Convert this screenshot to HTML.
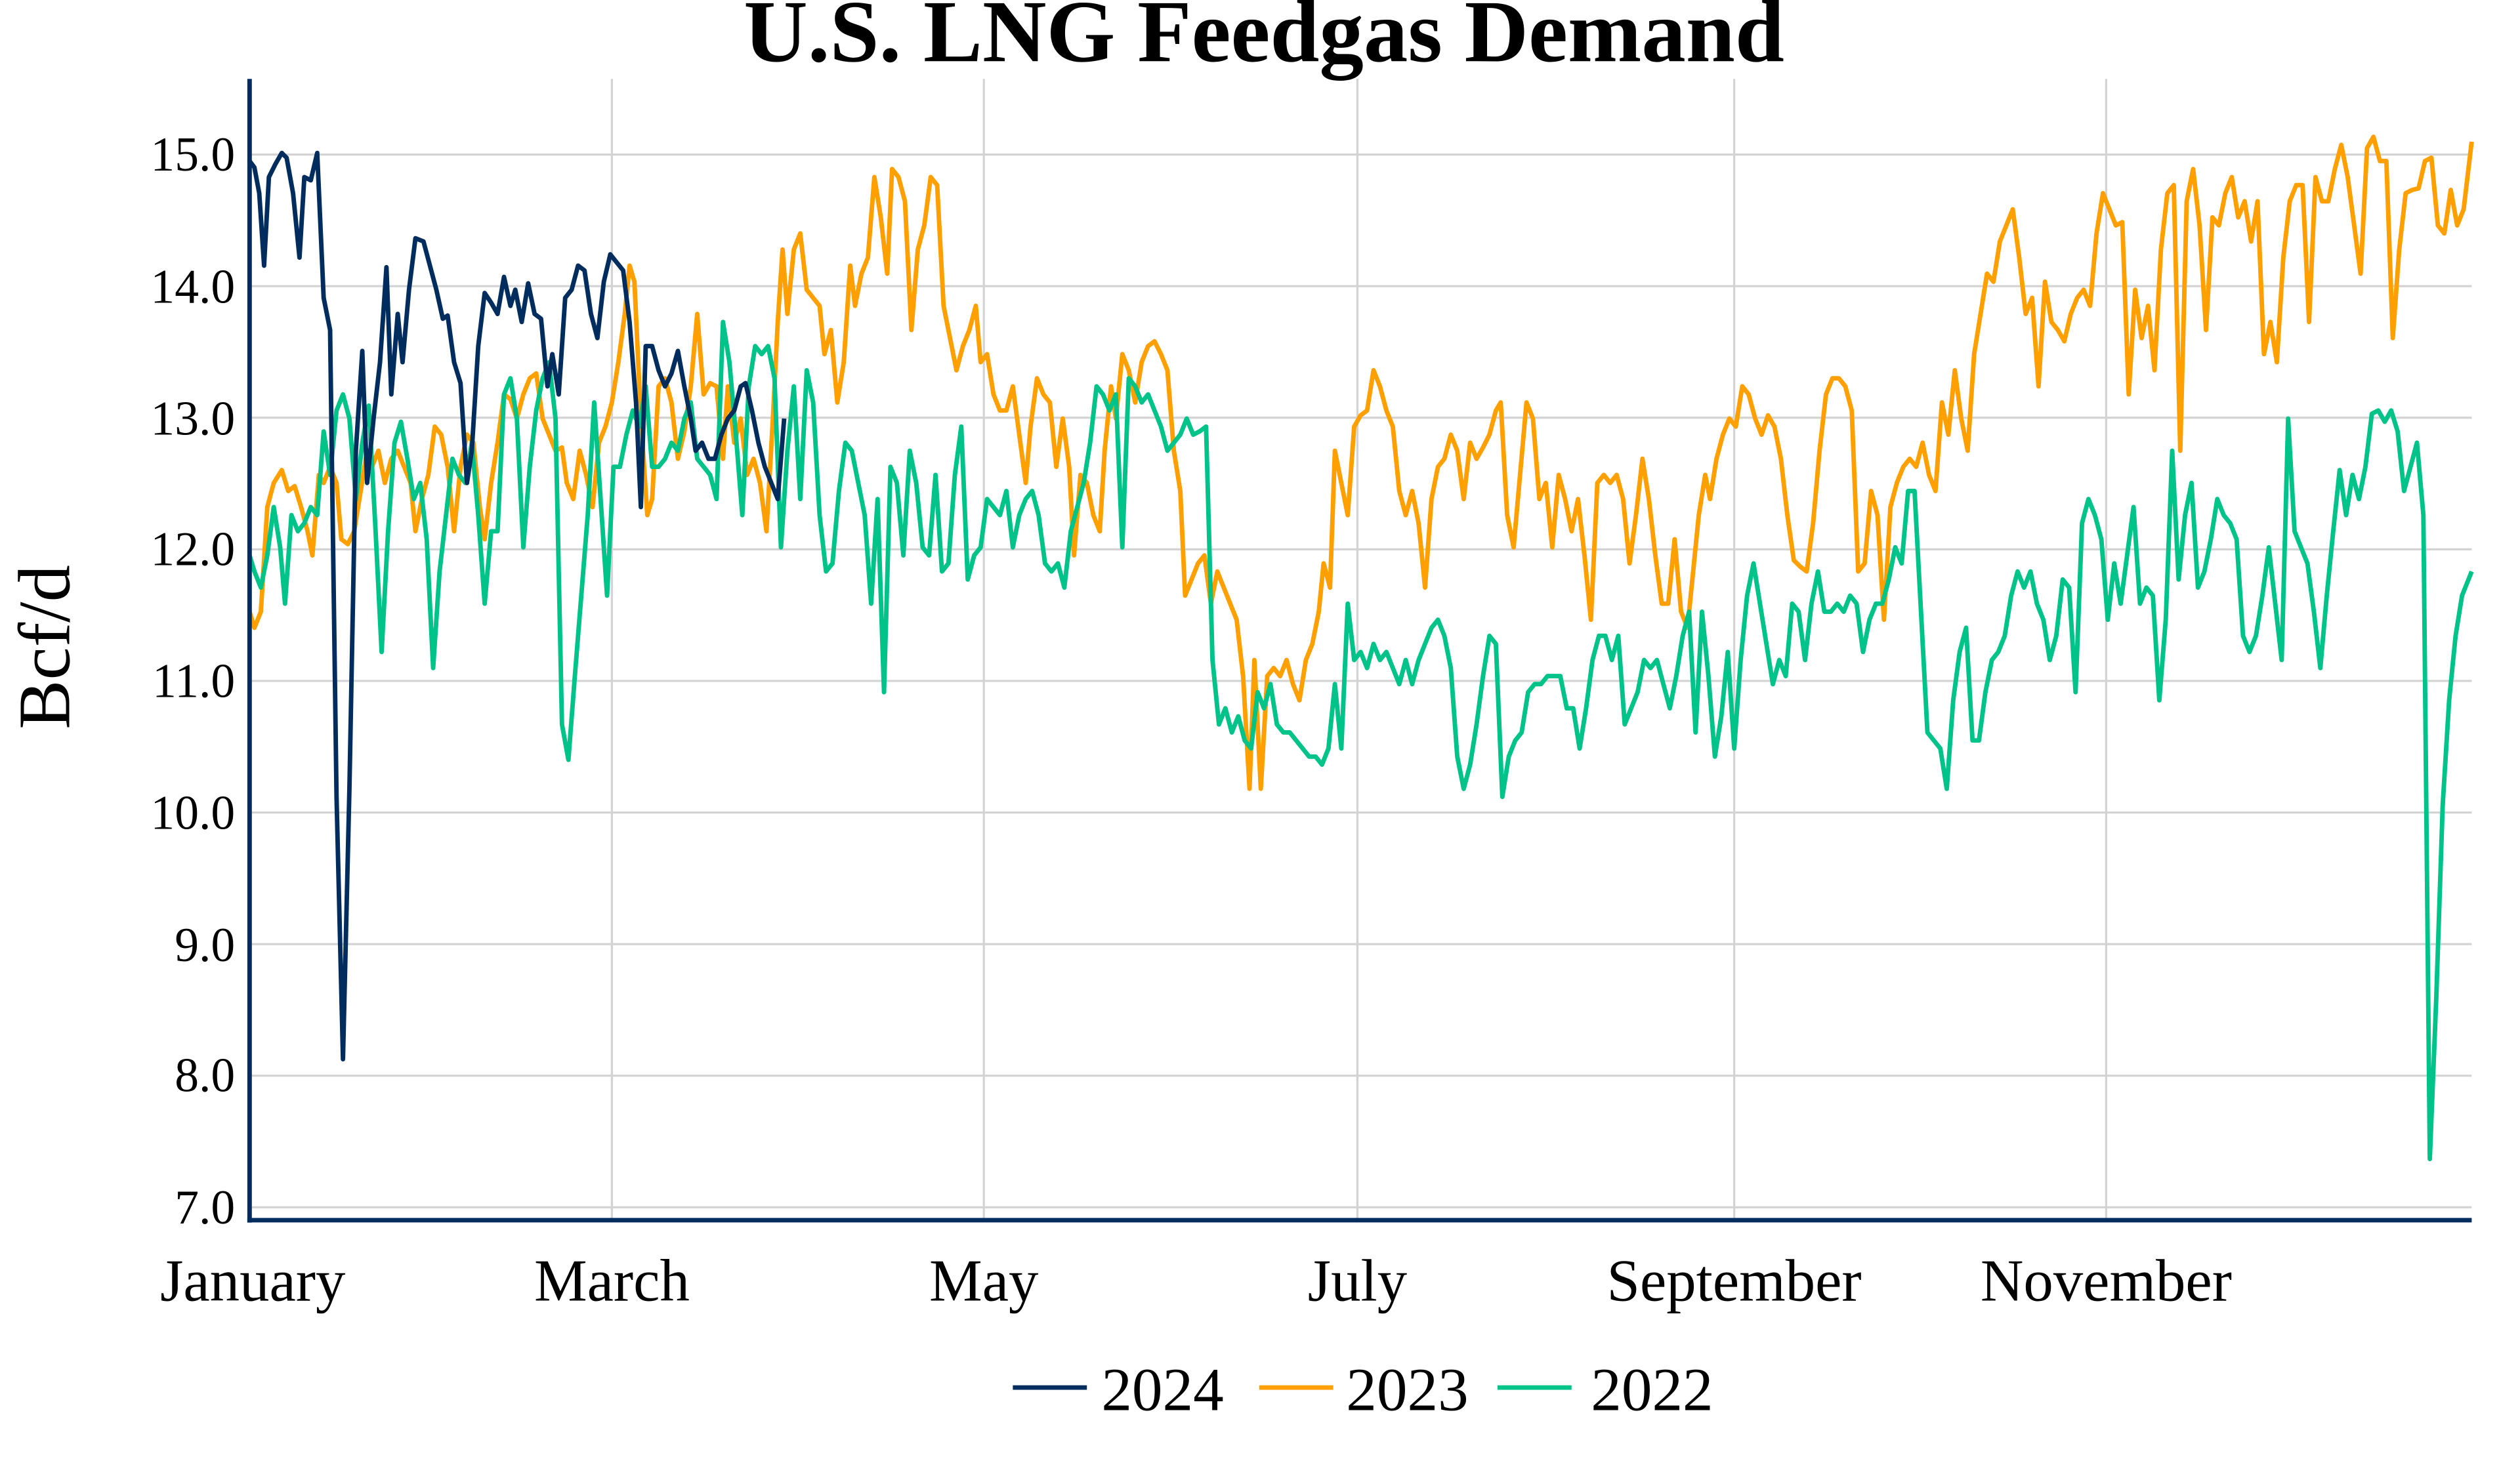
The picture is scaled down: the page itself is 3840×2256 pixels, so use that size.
<!DOCTYPE html>
<html><head><meta charset="utf-8"><style>html,body{margin:0;padding:0;background:#fff}svg{display:block}</style></head>
<body>
<svg width="3840" height="2256" viewBox="0 0 1565 919.4" xmlns="http://www.w3.org/2000/svg" font-family="Liberation Serif, serif">
<rect width="1565" height="920" fill="#fff"/>
<g stroke="#d3d3d3" stroke-width="1.3">
<line x1="155" y1="96" x2="1535" y2="96"/><line x1="155" y1="177.75" x2="1535" y2="177.75"/><line x1="155" y1="259.5" x2="1535" y2="259.5"/><line x1="155" y1="341.25" x2="1535" y2="341.25"/><line x1="155" y1="423" x2="1535" y2="423"/><line x1="155" y1="504.75" x2="1535" y2="504.75"/><line x1="155" y1="586.5" x2="1535" y2="586.5"/><line x1="155" y1="668.25" x2="1535" y2="668.25"/><line x1="155" y1="750" x2="1535" y2="750"/>
<line x1="380" y1="49" x2="380" y2="757"/><line x1="611" y1="49" x2="611" y2="757"/><line x1="843" y1="49" x2="843" y2="757"/><line x1="1077" y1="49" x2="1077" y2="757"/><line x1="1308" y1="49" x2="1308" y2="757"/>
</g>
<g font-size="30" text-anchor="end" fill="#000">
<text x="146" y="106">15.0</text><text x="146" y="188">14.0</text><text x="146" y="270">13.0</text><text x="146" y="351">12.0</text><text x="146" y="433">11.0</text><text x="146" y="515">10.0</text><text x="146" y="597">9.0</text><text x="146" y="678">8.0</text><text x="146" y="760">7.0</text>
</g>
<g font-size="37" text-anchor="middle" fill="#000">
<text x="157" y="808">January</text><text x="380" y="808">March</text><text x="611" y="808">May</text><text x="843" y="808">July</text><text x="1077" y="808">September</text><text x="1308" y="808">November</text>
</g>
<text x="785" y="38" font-size="55" font-weight="bold" text-anchor="middle">U.S. LNG Feedgas Demand</text>
<text transform="translate(43,402) rotate(-90)" font-size="46" text-anchor="middle">Bcf/d</text>
<g fill="none" stroke-width="2.8" stroke-linejoin="round">
<polyline stroke="#FFA000" points="155,380 158,390 162,380 166,315 170,300 175,292 179,305 183,302 187,315 191,330 194,345 198,295 201,300 205,290 209,300 212,335 216,338 220,330 224,305 228,280 231,290 235,280 239,300 243,285 247,280 251,290 255,300 258,330 262,310 266,295 270,265 274,270 278,290 282,330 286,290 290,270 294,275 298,315 301,335 305,300 309,275 313,245 317,248 321,260 325,245 329,235 333,232 337,260 341,270 345,280 349,278 352,300 356,310 360,280 364,295 368,315 372,275 376,265 380,250 384,225 388,195 391,165 394,175 398,260 402,320 405,310 409,240 413,235 417,250 421,285 425,268 429,240 433,195 437,245 441,238 445,240 449,285 452,240 456,275 460,260 464,295 468,285 472,300 476,330 480,260 483,200 486,155 489,195 493,155 497,145 501,180 505,185 509,190 512,220 516,205 520,250 524,225 528,165 531,190 535,170 539,160 543,110 547,135 551,170 554,105 558,110 562,125 566,205 570,155 574,140 578,110 582,115 586,190 590,210 594,230 598,215 602,205 606,190 609,225 613,220 617,245 621,255 625,255 629,240 633,270 637,300 640,265 644,235 648,245 652,250 656,290 660,260 664,290 667,345 671,295 675,300 679,320 683,330 686,280 690,240 693,260 697,220 701,230 705,250 709,225 713,215 717,212 721,220 725,230 729,280 733,305 736,370 740,360 744,350 748,345 752,375 756,355 760,365 764,375 768,385 772,420 776,490 779,410 783,490 787,420 791,415 795,420 799,410 803,425 807,435 811,410 815,400 819,380 822,350 826,365 829,280 833,300 837,320 841,265 845,258 849,255 853,230 857,240 861,255 865,265 869,305 873,320 877,305 881,325 885,365 889,310 893,290 897,285 901,270 905,280 909,310 913,275 917,285 921,278 925,270 929,255 932,250 936,320 940,340 944,295 948,250 952,260 956,310 960,300 964,340 968,295 972,310 976,330 980,310 984,345 988,385 992,300 996,295 1000,300 1004,295 1008,310 1012,350 1016,320 1020,285 1024,310 1028,345 1032,375 1036,375 1040,335 1044,380 1048,390 1052,350 1055,320 1059,295 1062,310 1066,285 1070,270 1074,260 1078,265 1082,240 1086,245 1090,260 1094,270 1098,258 1102,265 1106,285 1110,320 1114,348 1118,352 1122,355 1126,325 1130,280 1134,245 1138,235 1142,235 1146,240 1150,255 1154,355 1158,350 1162,305 1166,320 1170,385 1174,315 1178,300 1182,290 1186,285 1190,290 1194,275 1198,295 1202,305 1206,250 1210,270 1214,230 1218,260 1222,280 1226,220 1230,195 1234,170 1238,175 1242,150 1246,140 1250,130 1254,160 1258,195 1262,185 1266,240 1270,175 1274,200 1278,205 1282,212 1286,195 1290,185 1294,180 1298,190 1302,145 1306,120 1310,130 1314,140 1318,138 1322,245 1326,180 1330,210 1334,190 1338,230 1342,155 1346,120 1350,115 1354,280 1358,125 1362,105 1366,140 1370,205 1374,135 1378,140 1382,120 1386,110 1390,135 1394,125 1398,150 1402,125 1406,220 1410,200 1414,225 1418,160 1422,125 1426,115 1430,115 1434,200 1438,110 1442,125 1446,125 1450,105 1454,90 1458,110 1462,140 1466,170 1470,92 1474,85 1478,100 1482,100 1486,210 1490,155 1494,120 1498,118 1502,117 1506,100 1510,98 1514,140 1518,145 1522,118 1526,140 1530,130 1535,88"/>
<polyline stroke="#00C389" points="155,345 158,355 162,365 166,345 170,315 174,340 177,375 181,320 185,330 189,325 193,315 197,320 201,268 205,295 209,255 213,245 217,260 221,310 225,275 229,252 233,325 237,405 241,330 245,275 249,262 253,285 257,310 261,300 265,335 269,415 273,355 277,320 281,285 285,295 289,300 293,275 297,320 301,375 305,330 309,330 313,245 317,235 321,260 325,340 329,290 333,255 337,235 341,225 345,260 349,450 353,472 357,420 361,370 365,320 369,250 373,310 377,370 381,290 385,290 389,270 393,255 397,265 401,240 405,290 409,290 413,285 417,275 421,280 425,260 429,250 433,285 437,290 441,295 445,310 449,200 453,225 457,270 461,320 465,240 469,215 473,220 477,215 481,235 485,340 489,280 493,240 497,310 501,230 505,250 509,320 513,355 517,350 521,305 525,275 529,280 533,300 537,320 541,375 545,310 549,430 553,290 557,300 561,345 565,280 569,300 573,340 577,345 581,295 585,355 589,350 593,295 597,265 601,360 605,345 609,340 613,310 617,315 621,320 625,305 629,340 633,320 637,310 641,305 645,320 649,350 653,355 657,350 661,365 665,330 669,315 673,300 677,275 681,240 685,245 689,255 693,245 697,340 701,235 705,240 709,250 713,245 717,255 721,265 725,280 729,275 733,270 737,260 741,270 745,268 749,265 753,410 757,450 761,440 765,455 769,445 773,460 777,465 781,430 785,440 789,425 793,450 797,455 801,455 805,460 809,465 813,470 817,470 821,475 825,465 829,425 833,465 837,375 841,410 845,405 849,415 853,400 857,410 861,405 865,415 869,425 873,410 877,425 881,410 885,400 889,390 893,385 897,395 901,415 905,470 909,490 913,475 917,450 921,420 925,395 929,400 933,495 937,470 941,460 945,455 949,430 953,425 957,425 961,420 965,420 969,420 973,440 977,440 981,465 985,440 989,410 993,395 997,395 1001,410 1005,395 1009,450 1013,440 1017,430 1021,410 1025,415 1029,410 1033,425 1037,440 1041,420 1045,395 1049,380 1053,455 1057,380 1061,420 1065,470 1069,445 1073,405 1077,465 1081,410 1085,370 1089,350 1093,375 1097,400 1101,425 1105,410 1109,420 1113,375 1117,380 1121,410 1125,375 1129,355 1133,380 1137,380 1141,375 1145,380 1149,370 1153,375 1157,405 1161,385 1165,375 1169,375 1173,360 1177,340 1181,350 1185,305 1189,305 1193,380 1197,455 1201,460 1205,465 1209,490 1213,435 1217,405 1221,390 1225,460 1229,460 1233,430 1237,410 1241,405 1245,395 1249,370 1253,355 1257,365 1261,355 1265,375 1269,385 1273,410 1277,395 1281,360 1285,365 1289,430 1293,325 1297,310 1301,320 1305,335 1309,385 1313,350 1317,375 1321,345 1325,315 1329,375 1333,365 1337,370 1341,435 1345,385 1349,280 1353,360 1357,320 1361,300 1365,365 1369,355 1373,335 1377,310 1381,320 1385,325 1389,335 1393,395 1397,405 1401,395 1405,370 1409,340 1413,375 1417,410 1421,260 1425,330 1429,340 1433,350 1437,380 1441,415 1445,370 1449,330 1453,292 1457,320 1461,295 1465,310 1469,290 1473,257 1477,255 1481,262 1485,255 1489,268 1493,305 1497,290 1501,275 1505,320 1509,720 1513,620 1517,500 1521,435 1525,395 1529,370 1535,355"/>
<polyline stroke="#002D5E" points="155,100 158,104 161,120 164,165 167,110 171,102 175,95 178,98 182,120 186,160 189,110 193,112 197,95 201,185 205,205 209,495 213,658 217,490 221,280 225,218 228,300 232,260 236,225 240,166 243,245 247,195 250,225 254,180 258,148 263,150 267,165 271,180 275,198 278,196 282,225 286,238 290,300 293,280 297,215 301,182 305,188 309,195 313,172 317,190 320,180 324,200 328,176 332,195 336,198 340,240 343,220 347,245 351,185 355,180 359,165 363,168 367,195 371,210 375,175 379,158 383,163 387,168 391,200 395,250 398,315 401,215 405,215 409,230 413,240 417,232 421,218 425,240 429,260 432,280 436,275 440,285 444,285 448,270 452,260 456,255 460,240 463,238 467,255 471,275 475,290 479,300 483,310 487,260"/>
</g>
<g stroke="#002D5E" stroke-width="2.8">
<line x1="155" y1="49" x2="155" y2="759.5"/><line x1="153.6" y1="758" x2="1535" y2="758"/>
</g>
<g stroke-width="2.8">
<line x1="629" y1="862" x2="675" y2="862" stroke="#002D5E"/>
<line x1="782" y1="862" x2="828" y2="862" stroke="#FFA000"/>
<line x1="930" y1="862" x2="976" y2="862" stroke="#00C389"/>
</g>
<g font-size="38" fill="#000">
<text x="684" y="876">2024</text><text x="836" y="876">2023</text><text x="988" y="876">2022</text>
</g>
</svg>
</body></html>
